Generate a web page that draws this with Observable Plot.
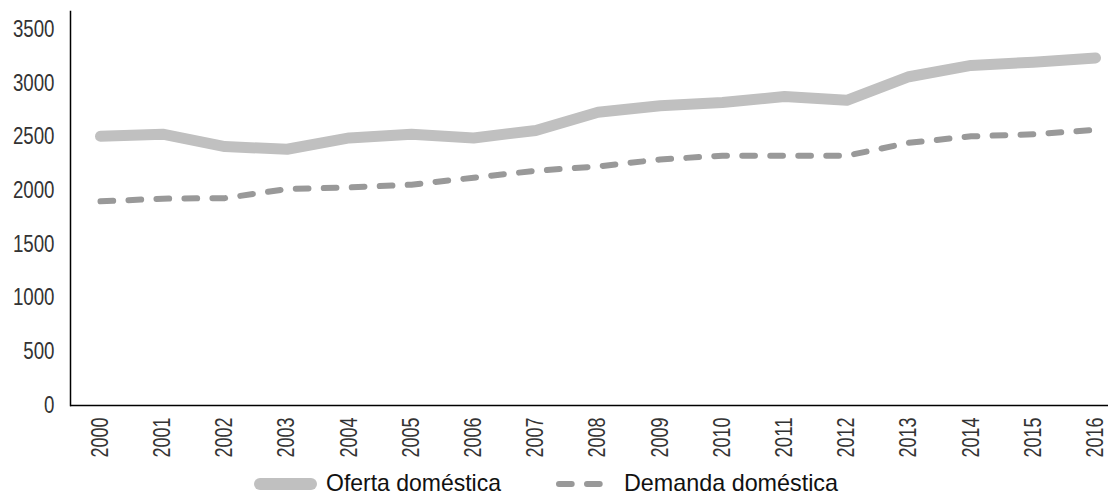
<!DOCTYPE html>
<html>
<head>
<meta charset="utf-8">
<script src="https://cdn.jsdelivr.net/npm/d3@7"></script>
<script src="https://cdn.jsdelivr.net/npm/@observablehq/plot@0.6"></script>
<style>
  html, body { margin: 0; padding: 0; background: #fff; }
  #chart svg { display: block; }
</style>
</head>
<body>
<div id="chart"></div>
<script>
const years = [2000, 2001, 2002, 2003, 2004, 2005, 2006, 2007, 2008, 2009, 2010, 2011, 2012, 2013, 2014, 2015, 2016];
const oferta = [2505, 2525, 2410, 2385, 2490, 2525, 2490, 2560, 2730, 2790, 2820, 2875, 2840, 3060, 3165, 3195, 3235];
const demanda = [1900, 1925, 1930, 2015, 2030, 2055, 2120, 2185, 2225, 2290, 2325, 2325, 2325, 2445, 2505, 2525, 2565];
const yTicks = [0, 500, 1000, 1500, 2000, 2500, 3000, 3500];
const seriesNames = ["Oferta doméstica", "Demanda doméstica"];

const dataOferta = years.map((y, i) => ({year: y, value: oferta[i]}));
const dataDemanda = years.map((y, i) => ({year: y, value: demanda[i]}));

const font = "'Liberation Sans', Arial, sans-serif";

const chart = Plot.plot({
  width: 1108,
  height: 462,
  marginLeft: 70,
  marginRight: 0,
  marginTop: 11,
  marginBottom: 57,
  style: {fontFamily: font, fontSize: "23px", color: "#333", background: "#fff"},
  x: {type: "linear", domain: [2000, 2016], range: [100, 1095]},
  y: {domain: [0, 3667]},
  marks: [
    Plot.axisY({ticks: yTicks, tickSize: 0, tickPadding: 16, label: null, tickFormat: d => String(d)}),
    Plot.axisX({ticks: years, tickSize: 0, tickPadding: 12, tickRotate: -90, label: null, tickFormat: d => String(d)}),
    Plot.frame({anchor: "left", stroke: "#000", strokeWidth: 1.5}),
    Plot.ruleY([0], {stroke: "#000", strokeWidth: 1.5}),
    Plot.line(dataOferta, {x: "year", y: "value", stroke: "#c0c0c0", strokeWidth: 11, strokeLinecap: "round", strokeLinejoin: "round"}),
    Plot.line(dataDemanda, {x: "year", y: "value", stroke: "#999999", strokeWidth: 6, strokeDasharray: "12.7,15.3", strokeLinecap: "round", strokeLinejoin: "round"})
  ]
});
document.getElementById("chart").appendChild(chart);

// Condense tick labels to mimic the reference's narrow typeface
chart.querySelectorAll('g[aria-label="y-axis tick label"] text').forEach(t => {
  t.setAttribute("textLength", t.textContent.length * 10.4);
  t.setAttribute("lengthAdjust", "spacingAndGlyphs");
});
chart.querySelectorAll('g[aria-label="x-axis tick label"] text').forEach(t => {
  t.setAttribute("textLength", t.textContent.length * 10);
  t.setAttribute("lengthAdjust", "spacingAndGlyphs");
});

// Legend below the chart
const ns = "http://www.w3.org/2000/svg";
const leg = document.createElementNS(ns, "svg");
leg.setAttribute("width", 1108);
leg.setAttribute("height", 34);
leg.style.display = "block";
function el(tag, attrs, text) {
  const e = document.createElementNS(ns, tag);
  for (const k in attrs) e.setAttribute(k, attrs[k]);
  if (text) e.textContent = text;
  leg.appendChild(e);
  return e;
}
el("line", {x1: 260, x2: 311, y1: 22, y2: 22, stroke: "#c0c0c0", "stroke-width": 12, "stroke-linecap": "round"});
el("text", {x: 326, y: 29, "font-family": font, "font-size": 24, fill: "#111", textLength: 175, lengthAdjust: "spacingAndGlyphs"}, seriesNames[0]);
el("line", {x1: 559, x2: 600, y1: 22, y2: 22, stroke: "#999999", "stroke-width": 6, "stroke-dasharray": "12.7,15.3", "stroke-linecap": "round"});
el("text", {x: 624, y: 29, "font-family": font, "font-size": 24, fill: "#111", textLength: 214, lengthAdjust: "spacingAndGlyphs"}, seriesNames[1]);
document.getElementById("chart").appendChild(leg);
</script>
</body>
</html>
